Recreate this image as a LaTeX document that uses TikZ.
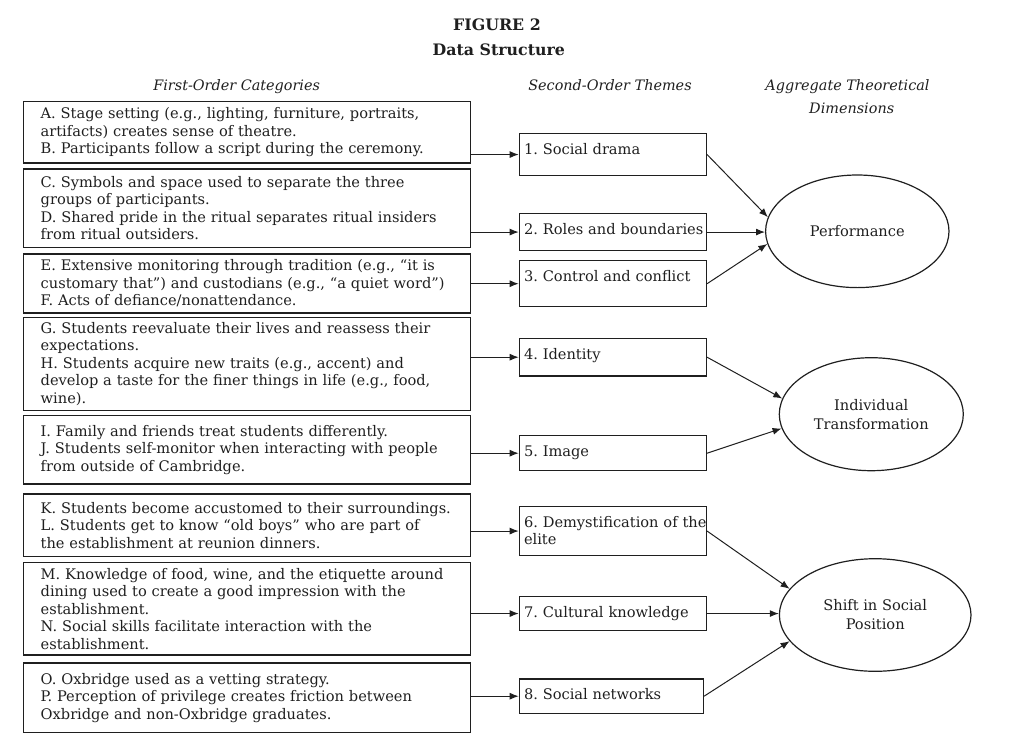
\documentclass[tikz,border=0pt]{standalone}
\usepackage{fontspec}
\setmainfont{DejaVu Serif}
\usetikzlibrary{arrows.meta,shapes.geometric}
\definecolor{ink}{HTML}{1F1F1F}
\frenchspacing
\begin{document}
\begin{tikzpicture}[x=1pt,y=-1pt,
  every node/.style={text=ink},
  body/.style={font=\frenchspacing\fontsize{14.6}{17.5}\selectfont},
  catbox/.style={body,draw=ink,line width=1.4pt,anchor=north west,align=left,
    minimum width=447.3pt,text width=412.7pt,inner xsep=17.3pt,inner ysep=0pt},
  theme/.style={body,draw=ink,line width=1.4pt,anchor=north west,align=left,
    inner xsep=4.6pt,inner ysep=0pt,text height=20.7pt,text width=177.8pt},
  dim/.style={font=\frenchspacing\fontsize{14.6}{19}\selectfont,draw=ink,line width=1.2pt,ellipse,align=center,inner sep=0pt},
  head/.style={font=\frenchspacing\itshape\fontsize{14.4}{17.5}\selectfont,anchor=base},
  ttl/.style={font=\bfseries\fontsize{15.8}{18}\selectfont,anchor=base},
  arr/.style={draw=ink,line width=1pt,-{Latex[length=9pt,width=7pt]}},
]
\useasboundingbox (0,0) rectangle (1010,748);

% titles
\node[ttl] (fig) at (497,30.7) {FIGURE 2};
\node[ttl] (ds) at (498.8,55) {Data Structure};
\node[head] (h1) at (236.7,90) {First-Order Categories};
\node[head] (h2) at (610,90) {Second-Order Themes};
\node[head] (h3) at (847.5,90) {Aggregate Theoretical};
\node[head] (h4) at (851.7,113) {Dimensions};

% first-order categories
\node[catbox,minimum height=61.6pt] (ab) at (22.7,100.7) {A. Stage setting (e.g., lighting, furniture, portraits,\\ artifacts) creates sense of theatre.\\ B. Participants follow a script during the ceremony.};
\node[catbox,minimum height=78.4pt] (cd) at (22.7,168.3) {C. Symbols and space used to separate the three\\ groups of participants.\\ D. Shared pride in the ritual separates ritual insiders\\ from ritual outsiders.};
\node[catbox,minimum height=59pt] (ef) at (22.7,253.3) {E. Extensive monitoring through tradition (e.g., “it is\\ customary that”) and custodians (e.g., “a quiet word”)\\ F. Acts of defiance/nonattendance.};
\node[catbox,minimum height=93.3pt] (gh) at (22.7,316.7) {G. Students reevaluate their lives and reassess their\\ expectations.\\ H. Students acquire new traits (e.g., accent) and\\ develop a taste for the finer things in life (e.g., food,\\ wine).};
\node[catbox,minimum height=68.3pt] (ij) at (22.7,415) {I. Family and friends treat students differently.\\ J. Students self-monitor when interacting with people\\ from outside of Cambridge.};
\node[catbox,minimum height=62.4pt] (kl) at (22.7,493.3) {K. Students become accustomed to their surroundings.\\ L. Students get to know “old boys” who are part of\\ the establishment at reunion dinners.};
\node[catbox,minimum height=92.6pt] (mn) at (22.7,561.7) {M. Knowledge of food, wine, and the etiquette around\\ dining used to create a good impression with the\\ establishment.\\ N. Social skills facilitate interaction with the\\ establishment.};
\node[catbox,minimum height=69.4pt] (op) at (22.7,662.3) {O. Oxbridge used as a vetting strategy.\\ P. Perception of privilege creates friction between\\ Oxbridge and non-Oxbridge graduates.};

% second-order themes
\node[theme,text depth=21.6pt] (t1) at (518.7,132.7) {\mbox{1. Social drama}};
\node[theme,text depth=16.6pt] (t2) at (518.7,212.7) {\mbox{2. Roles and boundaries}};
\node[theme,text depth=25.3pt] (t3) at (518.7,260) {\mbox{3. Control and conflict}};
\node[theme,text depth=16.9pt] (t4) at (518.7,337.7) {\mbox{4. Identity}};
\node[theme,text depth=14.3pt] (t5) at (518.7,435) {\mbox{5. Image}};
\node[theme,text depth=28pt] (t6) at (518.7,506) {\mbox{6. Demystification of the}\\ elite};
\node[theme,text depth=13.6pt] (t7) at (518.7,595.7) {\mbox{7. Cultural knowledge}};
\node[theme,text depth=13.7pt,text width=174.8pt] (t8) at (518.7,678.3) {\mbox{8. Social networks}};

% aggregate dimensions
\node[dim,minimum width=183.4pt,minimum height=112.6pt] (perf) at (857.3,231.3) {Performance};
\node[dim,minimum width=184pt,minimum height=113pt] (indiv) at (871.3,414.2) {Individual\\ Transformation};
\node[dim,minimum width=191.6pt,minimum height=112.6pt] (shift) at (875.2,615) {Shift in Social\\ Position};

% connectors: categories to themes
\draw[arr] (ab.east |- t1.west) -- (t1.west);
\draw[arr] (cd.east |- t2.west) -- (t2.west);
\draw[arr] (ef.east |- t3.west) -- (t3.west);
\draw[arr] (gh.east |- t4.west) -- (t4.west);
\draw[arr] (ij.east |- t5.west) -- (t5.west);
\draw[arr] (kl.east |- t6.west) -- (t6.west);
\draw[arr] (mn.east |- t7.west) -- (t7.west);
\draw[arr] (op.east |- t8.west) -- (t8.west);

% connectors: themes to dimensions
\draw[arr] (t1.east) -- (perf.171.7);
\draw[arr] (t2.east) -- (t2.east -| perf.west);
\draw[arr] (t3.east) -- (perf.188.7);
\draw[arr] (t4.east) -- (indiv.170.5);
\draw[arr] (t5.east) -- (indiv.189);
\draw[arr] (t6.east) -- (shift.163.2);
\draw[arr] (t7.east) -- (t7.east -| shift.west);
\draw[arr] (t8.east) -- (shift.197.8);
\end{tikzpicture}
\end{document}
